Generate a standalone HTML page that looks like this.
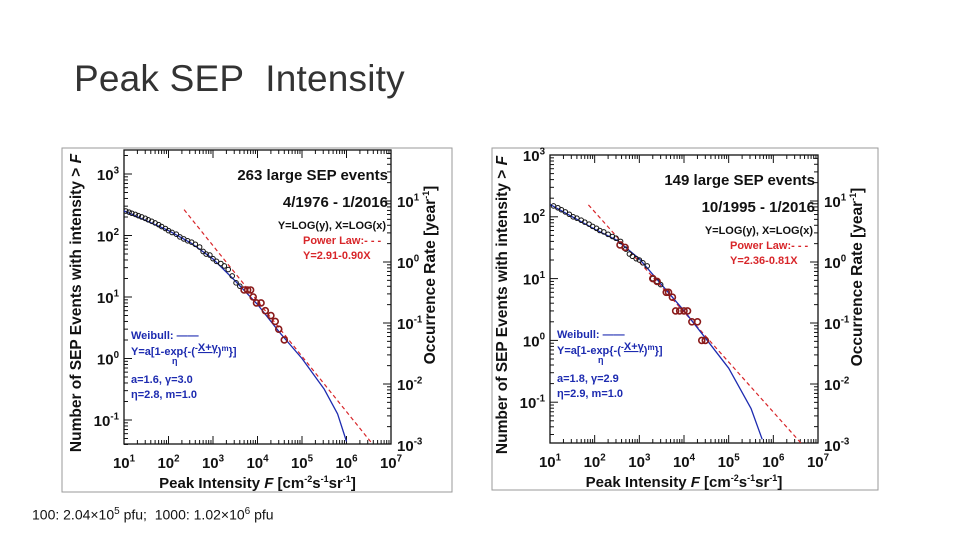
<!DOCTYPE html>
<html><head><meta charset="utf-8">
<style>
body{margin:0;background:#fff;}
#root{position:relative;width:960px;height:540px;overflow:hidden;background:#fff;font-family:"Liberation Sans",sans-serif;}
#title{position:absolute;left:74px;top:58px;font-size:37px;color:#333;letter-spacing:0.2px;}
#note{position:absolute;left:32px;top:506px;font-size:14px;color:#111;}
svg text{font-family:"Liberation Sans",sans-serif;font-weight:bold;}
</style></head>
<body>
<div id="root">
<div id="title">Peak SEP&nbsp; Intensity</div>
<svg id="chart" width="960" height="540" style="position:absolute;left:0;top:0"></svg>
<div id="note">100: 2.04×10<sup style="font-size:10px">5</sup> pfu;&nbsp; 1000: 1.02×10<sup style="font-size:10px">6</sup> pfu</div>
</div>
<script>
// ---- Data (peak intensity F, cumulative counts N) ----
const leftBlackF=[11,13,15,18,21,25,30,35,42,50,60,70,85,100,120,150,180,220,270,330,400,500,600,700,850,1000,1200,1500,1800,2200,2700,3300,4000];
const leftBlackN=[250,240,230,220,210,200,190,180,170,160,150,140,130,120,112,105,95,88,82,78,72,65,55,50,48,42,38,35,32,28,22,17,15];
const leftRedF=[5000,6000,7000,8000,9500,12000,15000,20000,25000,30000,40000];
const leftRedN=[13,13,13,10,8,8,6,5,4,3,2];
const leftCurveLogF=[1,1.5,2,2.5,3,3.5,4,4.5,5,5.5,5.8,6];
const leftCurveLogN=[2.4,2.24,2.08,1.88,1.62,1.26,0.88,0.42,0.0,-0.5,-0.9,-1.35];
const leftPower=[4.535,-0.90]; // intercept, slope in plotted log space
const leftPowerRange=[2.35,6.6];

const rightBlackF=[12,15,18,22,27,33,40,50,60,75,90,110,130,160,200,250,300,380,500,600,700,850,1000,1200,1500,2000,2500,3000];
const rightBlackN=[150,140,130,120,110,100,95,88,82,76,70,65,60,57,52,48,45,40,30,25,23,21,20,18,16,10,9,8];
const rightRedF=[370,480,2000,2500,4000,4500,5500,6500,8000,10000,12000,15000,20000,25000,30000];
const rightRedN=[35,32,10,9,6,6,5,3,3,3,3,2,2,1,1];
const rightCurveLogF=[1,1.5,2,2.5,3,3.5,4,4.5,5,5.5,5.75];
const rightCurveLogN=[2.2,2.0,1.8,1.62,1.32,0.9,0.48,0.02,-0.45,-1.1,-1.6];
const rightPower=[3.70,-0.81];
const rightPowerRange=[1.86,6.67];

const xTickExp=[1,2,3,4,5,6,7];
const yTickExp=[-1,0,1,2,3];
const rateTickExp=[1,0,-1,-2,-3];

const NS="http://www.w3.org/2000/svg";
const svg=document.getElementById('chart');
function el(tag,attrs,parent){const e=document.createElementNS(NS,tag);for(const k in attrs)e.setAttribute(k,attrs[k]);(parent||svg).appendChild(e);return e;}
function powText(g,x,y,exp,anchor,size){
  const t=el('text',{x:x,y:y,'font-size':size,'text-anchor':anchor,fill:'#111'},g);
  t.appendChild(document.createTextNode('10'));
  const s=el('tspan',{dy:-size*0.45,'font-size':size*0.65},t);s.textContent=String(exp);
  return t;
}

function drawChart(cfg){
  const g=el('g',{});
  
  
  const fr=el('rect',{x:cfg.frame[0],y:cfg.frame[1],width:cfg.frame[2],height:cfg.frame[3],fill:'#fff',stroke:'#9a9a9a','stroke-width':1},g);
  
  const L=cfg.L,R=cfg.R,T=cfg.T,B=cfg.B;
  const sx=v=>L+(v-1)/6*(R-L);
  const sy=v=>cfg.y0+(cfg.yRef-v)*cfg.ppd;
  const sr=v=>cfg.r0+(1-v)*cfg.rppd;
  const clip='clip-'+cfg.name;
  const cp=el('clipPath',{id:clip},g);el('rect',{x:L,y:T,width:R-L,height:B-T},cp);
  const box=el('rect',{x:L,y:T,width:R-L,height:B-T,fill:'none',stroke:'#111','stroke-width':1.3},g);
  
  xTickExp.forEach(e=>{
    const x=sx(e);
    el('line',{x1:x,y1:B,x2:x,y2:B-8,stroke:'#111'},g);el('line',{x1:x,y1:T,x2:x,y2:T+8,stroke:'#111'},g);
    if(e<7)for(let m=2;m<10;m++){const xm=sx(e+Math.log10(m));el('line',{x1:xm,y1:B,x2:xm,y2:B-4,stroke:'#111'},g);el('line',{x1:xm,y1:T,x2:xm,y2:T+4,stroke:'#111'},g);}
    const t=powText(g,x,B+24,e,'middle',15);
    
  });
  for(let e=-2;e<=3;e++){for(let m=1;m<10;m++){const y=sy(e+Math.log10(m));if(y<T-0.5||y>B+0.5)continue;el('line',{x1:L,y1:y,x2:L+(m==1?8:4),y2:y,stroke:'#111'},g);}}
  yTickExp.forEach(e=>{const t=powText(g,L-5,sy(e)+6,e,'end',15);});
  for(let e=-4;e<=2;e++){for(let m=1;m<10;m++){const y=sr(e+Math.log10(m));if(y<T-0.5||y>B+0.5)continue;el('line',{x1:R,y1:y,x2:R-(m==1?8:4),y2:y,stroke:'#111'},g);}}
  rateTickExp.forEach(e=>{const t=powText(g,R+6,sr(e)+6,e,'start',15);});
  const xt=el('text',{x:(L+R)/2,y:B+44,'font-size':15,'text-anchor':'middle',fill:'#111'},g);
  
  xt.innerHTML='Peak Intensity <tspan font-style="italic">F</tspan> [cm<tspan dy="-6" font-size="9">-2</tspan><tspan dy="6">s</tspan><tspan dy="-6" font-size="9">-1</tspan><tspan dy="6">sr</tspan><tspan dy="-6" font-size="9">-1</tspan><tspan dy="6">]</tspan>';
  const yt=el('text',{x:0,y:0,'font-size':15.5,'text-anchor':'middle',fill:'#111',transform:`translate(${cfg.yTitleX},${(T+B)/2+6}) rotate(-90)`},g);
  
  yt.innerHTML='Number of SEP Events with intensity &gt; <tspan font-style="italic">F</tspan>';
  const rt=el('text',{x:0,y:0,'font-size':15.5,'text-anchor':'middle',fill:'#111',transform:`translate(${R+44},${(T+B)/2-22}) rotate(-90)`},g);
  
  rt.innerHTML='Occurrence Rate [year<tspan dy="-6" font-size="9">-1</tspan><tspan dy="6">]</tspan>';
  const pg=el('g',{'clip-path':`url(#${clip})`},g);
  const p=cfg.power,pr=cfg.powerRange;
  const pl=el('line',{x1:sx(pr[0]),y1:sy(p[0]+p[1]*pr[0]),x2:sx(pr[1]),y2:sy(p[0]+p[1]*pr[1]),stroke:'#d8262a','stroke-width':1.2,'stroke-dasharray':'4 3'},pg);
  
  let d='';cfg.curveF.forEach((f,i)=>{d+=(i?'L':'M')+sx(f).toFixed(1)+','+sy(cfg.curveN[i]).toFixed(1);});
  const wc=el('path',{d:d,fill:'none',stroke:'#1d2bb0','stroke-width':1.3,'stroke-linejoin':'round'},pg);
  
  cfg.blackF.forEach((f,i)=>{const c=el('circle',{cx:sx(Math.log10(f)),cy:sy(Math.log10(cfg.blackN[i])),r:2.3,fill:'none',stroke:'#111','stroke-width':1},pg);
    });
  cfg.redF.forEach((f,i)=>{const c=el('circle',{cx:sx(Math.log10(f)),cy:sy(Math.log10(cfg.redN[i])),r:3,fill:'none',stroke:'#8a1a1a','stroke-width':1.6},pg);
    });
  const A=(x,y,s,txt,col,anchor,name)=>{const t=el('text',{x:x,y:y,'font-size':s,fill:col,'text-anchor':anchor||'start'},g);t.innerHTML=txt;
    return t;};
  A(R-3,T+30,15,cfg.t1,'#111','end','events-label');
  A(R-3,T+57,15,cfg.t2,'#111','end','date-range-label');
  A(R-5,T+79,11,'Y=LOG(y), X=LOG(x)','#111','end','log-note');
  A(R-88,T+94,11,'Power Law:- - -','#d8262a','start','power-law-legend');
  A(R-88,T+109,11,cfg.pl,'#d8262a','start','power-law-equation');
  A(L+7,B-105,11,'Weibull: ——','#1d2bb0','start','weibull-legend');
  A(L+7,B-89,11,'Y=a[1-exp{-(<tspan font-size="9" dy="-4">-</tspan><tspan dy="0" text-decoration="underline">X+γ</tspan><tspan dy="4">)</tspan><tspan dy="-4" font-size="8">m</tspan><tspan dy="4">}]</tspan>','#1d2bb0','start','weibull-equation');
  A(L+48,B-80,9,'η','#1d2bb0','start','weibull-eta');
  A(L+7,B-61,11,cfg.p1,'#1d2bb0','start','weibull-params-1');
  A(L+7,B-46,11,cfg.p2,'#1d2bb0','start','weibull-params-2');
}

drawChart({name:'chart-1976-2016',frame:[62,148,390,344],L:124,R:391,T:150,B:444,y0:174,yRef:3,ppd:61.5,r0:201,rppd:61,yTitleX:81,
  blackF:leftBlackF,blackN:leftBlackN,redF:leftRedF,redN:leftRedN,curveF:leftCurveLogF,curveN:leftCurveLogN,power:leftPower,powerRange:leftPowerRange,
  t1:'263 large SEP events',t2:'4/1976 - 1/2016',pl:'Y=2.91-0.90X',p1:'a=1.6, γ=3.0',p2:'η=2.8, m=1.0'});
drawChart({name:'chart-1995-2016',frame:[492,148,386,342],L:550,R:818,T:155,B:443,y0:155,yRef:3,ppd:61.8,r0:201,rppd:61,yTitleX:507,
  blackF:rightBlackF,blackN:rightBlackN,redF:rightRedF,redN:rightRedN,curveF:rightCurveLogF,curveN:rightCurveLogN,power:rightPower,powerRange:rightPowerRange,
  t1:'149 large SEP events',t2:'10/1995 - 1/2016',pl:'Y=2.36-0.81X',p1:'a=1.8, γ=2.9',p2:'η=2.9, m=1.0'});
</script>
</body></html>
